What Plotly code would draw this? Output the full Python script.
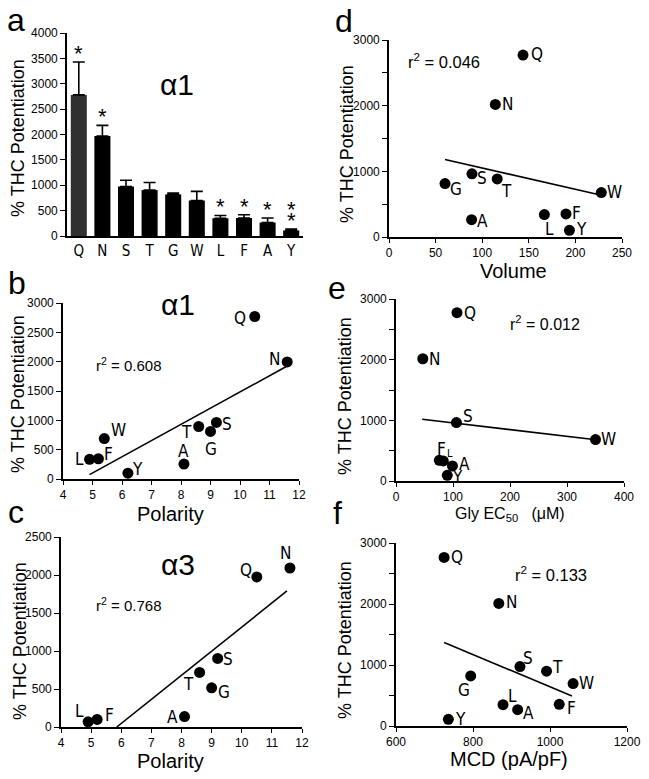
import plotly.graph_objects as go

W, H = 649, 779

# ---------------- data ----------------
residues_a = ["Q", "N", "S", "T", "G", "W", "L", "F", "A", "Y"]
potentiation_a1 = [2780, 1970, 975, 905, 820, 700, 350, 355, 265, 110]
potentiation_a1_err = [650, 210, 125, 150, 25, 180, 55, 65, 90, 25]
asterisks_a = ["*", "*", "", "", "", "", "*", "*", "*", "**"]

res_b = ["L", "F", "W", "Y", "A", "T", "G", "S", "Q", "N"]
polarity_b = [4.9, 5.2, 5.4, 6.2, 8.1, 8.6, 9.0, 9.2, 10.5, 11.6]
pot_b = [335, 345, 690, 100, 255, 895, 810, 965, 2770, 1995]
fit_b_x = [4.9, 11.6]
fit_b_y = [75, 1925]

res_c = ["L", "F", "A", "T", "G", "S", "Q", "N"]
polarity_c = [4.9, 5.2, 8.1, 8.6, 9.0, 9.2, 10.5, 11.6]
pot_c = [68, 100, 137, 718, 515, 902, 1975, 2092]
fit_c_x = [5.85, 11.5]
fit_c_y = [0, 1790]

res_d = ["Q", "N", "S", "T", "G", "W", "A", "L", "F", "Y"]
volume_d = [143.8, 114.1, 89.0, 116.1, 60.1, 227.8, 88.6, 166.7, 189.9, 193.6]
pot_d = [2770, 2019, 962, 885, 814, 676, 264, 341, 351, 102]
fit_d_x = [60, 228]
fit_d_y = [1180, 636]

res_e = ["Q", "N", "S", "W", "F", "L", "A", "Y"]
glyec50_e = [107, 47, 106, 350, 76, 83, 99, 90]
pot_e = [2774, 2015, 963, 683, 341, 330, 248, 94]
fit_e_x = [46, 347]
fit_e_y = [1018, 683]

res_f = ["Q", "N", "S", "T", "W", "G", "L", "A", "F", "Y"]
mcd_f = [725, 867, 922, 991, 1060, 794, 878, 916, 1024, 736]
pot_f = [2764, 2009, 974, 898, 695, 821, 350, 268, 356, 109]
fit_f_x = [725, 1057]
fit_f_y = [1368, 493]

# ---------------- styling helpers ----------------
FONT = "Liberation Sans, Arial, sans-serif"
NARROW = "Liberation Sans Narrow, DejaVu Sans Condensed, Liberation Sans, Arial, sans-serif"


def fx(x):
    return x / W


def fy(y):
    return 1 - y / H


def axis(dom, rng, dtick, minor=None, showticks=True, tickfont=12, **kw):
    d = dict(
        domain=dom, range=rng, dtick=dtick, tick0=rng[0] if rng else 0,
        showgrid=False, zeroline=False, showline=True, linecolor="black",
        linewidth=1.6, ticks="outside" if showticks else "", ticklen=5,
        tickwidth=1.4, tickcolor="black",
        tickfont=dict(family=FONT, size=tickfont, color="black"),
        fixedrange=True, automargin=False,
    )
    if minor:
        d["minor"] = dict(ticks="outside", dtick=minor, ticklen=5, tickwidth=1.4,
                          tickcolor="black", showgrid=False)
    d.update(kw)
    return d


fig = go.Figure()
layout = dict(
    width=W, height=H, margin=dict(l=0, r=0, t=0, b=0, pad=0, autoexpand=False),
    paper_bgcolor="white", plot_bgcolor="white", showlegend=False,
    font=dict(family=FONT, color="black"),
)
ann = []

# -------- panel a: bars --------
bar_colors = ["#303030"] + ["#000000"] * (len(residues_a) - 1)
fig.add_trace(go.Bar(
    x=residues_a, y=potentiation_a1, marker=dict(color=bar_colors, line=dict(width=0)),
    width=0.68,
    error_y=dict(type="data", symmetric=False, array=potentiation_a1_err,
                 arrayminus=[0] * len(residues_a), color="black", thickness=1.6, width=6),
    xaxis="x", yaxis="y",
))
layout["xaxis"] = axis([fx(67), fx(303)], [-0.5, 9.5], None, showticks=False,
                       tickfont=15, type="category", anchor="y", ticklen=0)
layout["xaxis"].pop("dtick")
layout["xaxis"].pop("tick0")
layout["xaxis"]["tickfont"]["family"] = NARROW
layout["yaxis"] = axis([fy(236), fy(33)], [0, 4000], 500, anchor="x")

for r, v, e, s in zip(residues_a, potentiation_a1, potentiation_a1_err, asterisks_a):
    for k, _ in enumerate(s):
        ann.append(dict(x=r, y=v + e, xref="x", yref="y", text="*", showarrow=False,
                        font=dict(size=22, family=FONT), yanchor="bottom",
                        yshift=-6 + 11 * k))

# -------- scatter panels --------
panels = [
    # name, x, y, labels, fit x, fit y, xdom px, ydom px, xrange, xdtick, yrange, ydtick, minor
    ("2", polarity_b, pot_b, res_b, fit_b_x, fit_b_y, (63, 299), (479, 303), [4, 12], 1, [0, 3000], 500, None),
    ("3", polarity_c, pot_c, res_c, fit_c_x, fit_c_y, (61, 302), (727, 537), [4, 12], 1, [0, 2500], 500, None),
    ("4", volume_d, pot_d, res_d, fit_d_x, fit_d_y, (389, 622), (237, 40), [0, 250], 50, [0, 3000], 1000, 500),
    ("5", glyec50_e, pot_e, res_e, fit_e_x, fit_e_y, (396, 624), (481, 299), [0, 400], 100, [0, 3000], 1000, 500),
    ("6", mcd_f, pot_f, res_f, fit_f_x, fit_f_y, (396, 627), (726, 543), [600, 1200], 200, [0, 3000], 1000, 500),
]

label_offsets = {
    "2": {"Q": (-15, -2), "N": (-13, 3), "W": (14, 9), "L": (-10, 0), "F": (10, 5),
          "Y": (10, 4), "A": (0, 13), "T": (-12, -6), "G": (0, -18), "S": (11, -2)},
    "3": {"L": (-9, 11), "F": (12, 4), "A": (-12, 0), "T": (-11, -12), "G": (12, -4),
          "S": (10, -1), "Q": (-11, 7), "N": (-4, 15)},
    "4": {"Q": (14, 1), "N": (12, 0), "S": (10, -4), "T": (9, -12), "G": (11, -5),
          "W": (13, 1), "A": (11, -1), "L": (5, -14), "F": (11, 1), "Y": (12, 1)},
    "5": {"Q": (13, 0), "N": (12, 0), "S": (12, 7), "W": (13, 1), "F": (2, 11),
          "L": (7, 7), "A": (12, 2), "Y": (10, -2)},
    "6": {"Q": (13, 0), "N": (13, 1), "S": (8, 9), "T": (11, 4), "W": (13, 1),
          "G": (-7, -14), "L": (9, 9), "A": (11, -3), "F": (12, -4), "Y": (12, 0)},
}

for name, xs, ys, labs, fxs, fys, xd, yd, xr, xdt, yr, ydt, mn in panels:
    xa, ya = "x" + name, "y" + name
    fig.add_trace(go.Scatter(x=fxs, y=fys, mode="lines", line=dict(color="black", width=1.6),
                             xaxis=xa, yaxis=ya, cliponaxis=False))
    fig.add_trace(go.Scatter(x=xs, y=ys, mode="markers",
                             marker=dict(color="black", size=11, line=dict(width=0)),
                             xaxis=xa, yaxis=ya, cliponaxis=False))
    layout["xaxis" + name] = axis([fx(xd[0]), fx(xd[1])], xr, xdt, anchor=ya, ticklen=4)
    layout["yaxis" + name] = axis([fy(yd[0]), fy(yd[1])], yr, ydt, minor=mn, anchor=xa)
    for lab, x, y in zip(labs, xs, ys):
        dx, dy = label_offsets[name][lab]
        small = (name == "5" and lab == "L")
        ann.append(dict(x=x, y=y, xref=xa, yref=ya, text=lab, showarrow=False,
                        xshift=dx, yshift=dy,
                        font=dict(size=11 if small else 17, family=NARROW)))

# -------- text annotations (paper coords) --------
def ptext(x, y, text, size, family=FONT, angle=0):
    ann.append(dict(x=fx(x), y=fy(y), xref="paper", yref="paper", text=text,
                    showarrow=False, font=dict(size=size, family=family, color="black"),
                    textangle=angle, xanchor="center", yanchor="middle"))

for x, y, t in [(16, 20, "a"), (17, 283, "b"), (16, 512, "c"),
                (344, 21, "d"), (337, 288, "e"), (337, 513, "f")]:
    ptext(x, y, t, 32)

for x, y in [(18, 138), (18, 394), (20, 641), (347, 144), (345, 396), (345, 640)]:
    ptext(x, y, "% THC Potentiation", 18, angle=-90)

ptext(177, 84, "α1", 30)
ptext(178, 304, "α1", 30)
ptext(178, 564, "α3", 30)

ptext(128, 364, "r<sup>2</sup> = 0.608", 15)
ptext(128, 604, "r<sup>2</sup> = 0.768", 15)
ptext(444, 61, "r<sup>2</sup> = 0.046", 16.5)
ptext(545, 323, "r<sup>2</sup> = 0.012", 16)
ptext(551, 574, "r<sup>2</sup> = 0.133", 16.5)

ptext(170, 514, "Polarity", 20)
ptext(170, 761, "Polarity", 20)
ptext(513, 271, "Volume", 20)
ptext(510, 514, "Gly EC<sub>50</sub>   (μM)", 16)
ptext(509, 759, "MCD (pA/pF)", 20)

layout["annotations"] = ann
fig.update_layout(**layout)
fig.write_html("out.html", config={"displayModeBar": False},
               post_script="document.body.style.margin='0';")
